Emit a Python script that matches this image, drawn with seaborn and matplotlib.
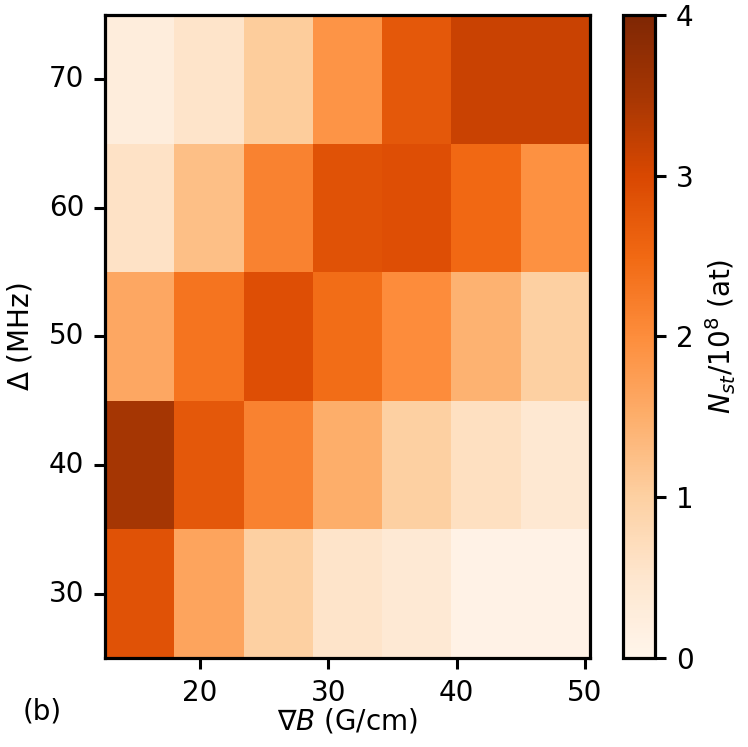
import numpy as np
import pandas as pd
import seaborn as sns
import matplotlib
matplotlib.use("Agg")
import matplotlib.pyplot as plt

sns.set_style("ticks")
plt.rcParams['font.family'] = ['DejaVu Sans']
plt.rcParams['text.color'] = 'black'
plt.rcParams['axes.labelcolor'] = 'black'
plt.rcParams['xtick.color'] = 'black'
plt.rcParams['ytick.color'] = 'black'

# field gradient (G/cm), cell centres, and detuning (MHz), top row first
grad = [15.3, 20.7, 26.1, 31.5, 36.9, 42.2, 47.6]
detuning = [70, 60, 50, 40, 30]

# N_st / 1e8 for each detuning row
n_70 = [0.25, 0.55, 1.05, 1.9, 2.75, 3.15, 3.15]
n_60 = [0.6, 1.25, 2.15, 2.85, 2.9, 2.5, 1.95]
n_50 = [1.6, 2.35, 2.9, 2.45, 2.0, 1.45, 1.0]
n_40 = [3.5, 2.75, 2.15, 1.5, 1.0, 0.65, 0.45]
n_30 = [2.85, 1.65, 1.0, 0.55, 0.4, 0.1, 0.1]

xticks = [20, 30, 40, 50]
yticks = [30, 40, 50, 60, 70]
cticks = [0, 1, 2, 3, 4]

df = pd.DataFrame([n_70, n_60, n_50, n_40, n_30], index=detuning, columns=grad)

fig = plt.figure(figsize=(7.48, 7.47), dpi=100)
ax = fig.add_axes([105/748, 89/747, 485/748, 643/747])
cax = fig.add_axes([623/748, 89/747, 32/748, 643/747])

sns.heatmap(df, cmap="Oranges", vmin=0, vmax=4, ax=ax, cbar_ax=cax,
            cbar_kws={"ticks": cticks})

# map numeric axis values onto the heatmap cell grid
dx = grad[1] - grad[0]
x0 = grad[0] - dx / 2
dy = detuning[0] - detuning[1]
ytop = detuning[0] + dy / 2
ax.set_xticks([(v - x0) / dx for v in xticks])
ax.set_xticklabels([str(v) for v in xticks], rotation=0)
ax.set_yticks([(ytop - v) / dy for v in yticks])
ax.set_yticklabels([str(v) for v in yticks], rotation=0)

fs = 20
for s in ax.spines.values():
    s.set_visible(True)
    s.set_linewidth(2.3)
    s.set_color("black")
ax.tick_params(labelsize=fs, width=2.2, length=8, pad=7, direction="out")
ax.set_xlabel(r"$\nabla B$ (G/cm)", fontsize=fs, labelpad=0)
ax.set_ylabel(r"$\Delta$ (MHz)", fontsize=fs, labelpad=10)

cbar = ax.collections[0].colorbar
cbar.outline.set_visible(True)
cbar.outline.set_linewidth(2.3)
cbar.outline.set_edgecolor("black")
cbar.ax.tick_params(labelsize=fs, width=2.2, length=8, pad=7)
cbar.set_label(r"$N_{st}/10^8$ (at)", fontsize=fs, labelpad=7)

fig.text(0.03, 0.037, "(b)", fontsize=fs)

fig.savefig("out.png", dpi=100)
